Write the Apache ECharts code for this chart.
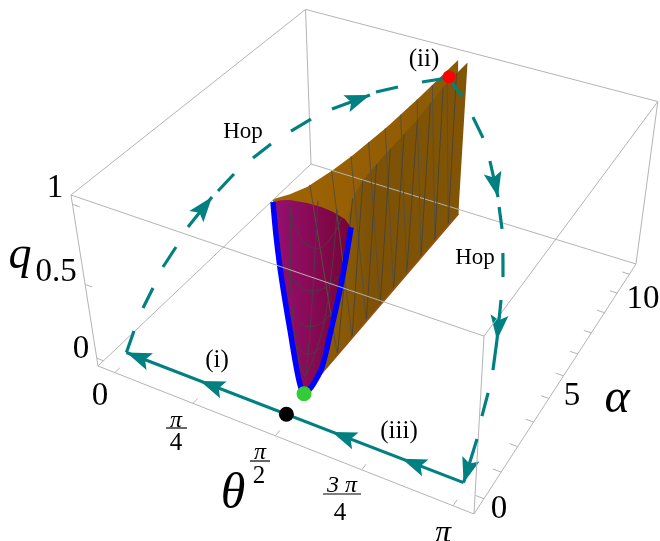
<!DOCTYPE html>
<html>
<head>
<meta charset="utf-8">
<style>
  html, body { margin: 0; padding: 0; background: #fff; }
  #chart { width: 660px; height: 541px; }
</style>
<script src="https://cdn.jsdelivr.net/npm/echarts@6/dist/echarts.min.js"></script>
</head>
<body>
<div id="chart"></div>
<script>
// data, all as [theta, alpha, q]
const thetaTicks = [0, Math.PI / 4, Math.PI / 2, 3 * Math.PI / 4, Math.PI];
const alphaTicks = [0, 1, 2, 3, 4, 5, 6, 7, 8, 9, 10];
const qTicks = [0, 0.5, 1];

// back sheet rim, left of theta = pi/2
const rimLeft = [[1.21, 1.64, 1.056], [1.29, 2.02, 1.056], [1.355, 2.49, 1.056], [1.413, 3.45, 1.056], [1.446, 4.29, 1.056],
  [1.485, 5.89, 1.056], [1.504, 7.67, 1.056], [1.509, 10, 1.056]];
// front sheet rim, right of theta = pi/2
const rimRight = [[1.897, 1.64, 1.039], [1.83, 1.87, 1.056], [1.721, 2.83, 1.056], [1.689, 3.42, 1.056],
  [1.67, 4.57, 1.056], [1.652, 6.58, 1.056], [1.602, 8.45, 1.056], [1.602, 10, 1.056]];
const valley = [[1.5708, 10, 0], [1.5708, 0.87, 0]];

// mesh lines on the sheets: alpha, rim theta left, rim theta right
const meshAlpha = [2.6, 3.4, 4.2, 5, 5.8, 6.6, 7.5, 8.4, 9.3];
const meshThetaLeft = [1.36, 1.41, 1.443, 1.465, 1.483, 1.494, 1.503, 1.506, 1.508];
const meshThetaRight = [1.74, 1.69, 1.675, 1.665, 1.659, 1.652, 1.63, 1.61, 1.6];

// blue curve
const blueCurve = [[1.2107, 1.64, 1.039], [1.249, 1.51, 0.865], [1.2966, 1.38, 0.694], [1.3546, 1.25, 0.516],
  [1.4127, 1.13, 0.352], [1.4835, 0.98, 0.157], [1.53, 0.9, 0.05], [1.5708, 0.87, 0], [1.61, 0.89, 0.03], [1.6577, 0.93, 0.088], [1.722, 1.02, 0.202],
  [1.7821, 1.19, 0.437], [1.8383, 1.37, 0.68], [1.8718, 1.51, 0.867], [1.8967, 1.64, 1.039]];
const capArc = [[1.2107, 1.64, 1.039], [1.25, 1.79, 1.039], [1.31, 1.91, 1.039], [1.446, 2, 1.039], [1.57, 2.02, 1.039], [1.68, 1.98, 1.039],
  [1.804, 1.86, 1.039], [1.8967, 1.64, 1.039]];
// mesh on the magenta cap
const capMeshAlpha = 1.55;
const capArcs = [
  [[1.388, 1.051], [1.454, 0.905], [1.607, 0.859], [1.76, 0.981], [1.83, 1.089]],
  [[1.323, 0.679], [1.411, 0.597], [1.557, 0.581], [1.716, 0.659], [1.793, 0.73]],
  [[1.345, 0.386], [1.425, 0.341], [1.517, 0.338], [1.639, 0.4], [1.726, 0.487]],
  [[1.389, 0.177], [1.489, 0.143], [1.622, 0.234]]
];
const capRibs = [
  [[1.388, 1.064], [1.358, 0.648], [1.356, 0.428], [1.394, 0.093], [1.453, -0.022]],
  [[1.631, 1.144], [1.557, 0.581], [1.489, 0.143], [1.453, -0.022]],
  [[1.795, 1.132], [1.716, 0.659], [1.605, 0.275], [1.453, -0.022]]
];

// path (ii): dashes going up to the red point
const hopUp = [
  [[0, 0, 0], [0.0439, 0.254, 0.124]],
  [[0.0938, 0.544, 0.2524], [0.1458, 0.845, 0.3577]],
  [[0.1979, 1.147, 0.4683], [0.2616, 1.516, 0.565]],
  [[0.3207, 1.858, 0.6632], [0.4342, 2.516, 0.797]],
  [[0.4619, 2.677, 0.8211], [0.5364, 3.109, 0.8918]],
  [[0.6238, 3.616, 0.9503], [0.7067, 4.096, 0.9988]],
  [[0.7988, 4.63, 1.0373], [0.8916, 5.168, 1.0706]],
  [[0.9898, 5.737, 1.0897], [1.1703, 6.783, 1.0994]],
  [[1.1993, 6.951, 1.1059], [1.3065, 7.573, 1.0922]],
  [[1.4262, 8.266, 1.074], [1.5535, 9.004, 1.047]]
];
// path (ii): dashes coming down
const hopDown = [
  [[1.57, 9.026, 1.0413], [1.78, 8.48, 1.027]],
  [[1.92, 8.28, 0.94], [2.094, 7.77, 0.896]],
  [[2.199, 7.55, 0.793], [2.339, 7.2, 0.628]],
  [[2.374, 7.05, 0.588], [2.443, 6.82, 0.486]],
  [[2.513, 6.45, 0.387], [2.583, 6.02, 0.298]],
  [[2.653, 5.44, 0.238], [2.758, 4.52, 0.122]],
  [[2.758, 4.52, 0.122], [2.845, 3.7, 0.062]],
  [[2.915, 2.93, 0.046], [2.967, 2.22, 0.017]],
  [[3.037, 1.46, 0.008], [Math.PI, 0, 0]]
];
const sweep = [[Math.PI, 0, 0], [0, 0, 0]];
const sweepArrowTheta = [2.614, 1.991, 0.742, 0];

const blackPoint = [Math.PI / 2, 0, 0];
const greenPoint = [Math.PI / 2, 0.87, 0];
const redPoint = [1.564, 9.06, 1.05];

// plot box with the 5% padding
const thetaRange = [-Math.PI / 18, Math.PI + Math.PI / 18];
const alphaRange = [-0.5556, 10.5556];
const qRange = [-0.0556, 1.0556];

// view fitted to the corners of the box
const camera = [
  [324.93, 278.51, -33.18, 98],
  [92.62, -167.46, -187.97, 366],
  [-0.10775, 0.21063, -0.087, 1]
];

function projectUnit(u, v, w) {
  const h = camera[2][0] * u + camera[2][1] * v + camera[2][2] * w + camera[2][3];
  return [
    (camera[0][0] * u + camera[0][1] * v + camera[0][2] * w + camera[0][3]) / h,
    (camera[1][0] * u + camera[1][1] * v + camera[1][2] * w + camera[1][3]) / h
  ];
}
function project(p) {
  return projectUnit(
    (p[0] - thetaRange[0]) / (thetaRange[1] - thetaRange[0]),
    (p[1] - alphaRange[0]) / (alphaRange[1] - alphaRange[0]),
    (p[2] - qRange[0]) / (qRange[1] - qRange[0])
  );
}

const series = [];

function addLine(points, color, width, smooth) {
  series.push({
    type: "line",
    data: points.map(project),
    showSymbol: false,
    silent: true,
    clip: false,
    smooth: smooth || false,
    lineStyle: { color: color, width: width, cap: "butt", join: "round" },
    z: 2
  });
}

function addPolygon(points, fill) {
  const data = points.map(project);
  series.push({
    type: "custom",
    silent: true,
    clip: false,
    data: data,
    z: 2,
    renderItem: function (params, api) {
      if (params.dataIndex !== 0) return null;
      return {
        type: "polygon",
        shape: { points: data.map((d) => api.coord(d)) },
        style: { fill: fill }
      };
    }
  });
}

function addDot(point, color, size) {
  series.push({
    type: "scatter",
    data: [project(point)],
    symbolSize: size,
    silent: true,
    itemStyle: { color: color, opacity: 1 },
    z: 2
  });
}

// arrowheads, each item is tip and tail of the dash it sits on
function addArrows(list, color) {
  series.push({
    type: "custom",
    silent: true,
    clip: false,
    data: list.map((a) => project(a[0]).concat(project(a[1]))),
    z: 2,
    renderItem: function (params, api) {
      const tip = api.coord([api.value(0), api.value(1)]);
      const tail = api.coord([api.value(2), api.value(3)]);
      const len = Math.hypot(tip[0] - tail[0], tip[1] - tail[1]);
      const dx = (tip[0] - tail[0]) / len;
      const dy = (tip[1] - tail[1]) / len;
      const at = (back, side) => [tip[0] - dx * back - dy * side, tip[1] - dy * back + dx * side];
      return {
        type: "polygon",
        shape: { points: [tip, at(25, 9), at(20, 0), at(25, -9)] },
        style: { fill: color }
      };
    }
  });
}

const thetaA = thetaRange[0], thetaB = thetaRange[1];
const alphaA = alphaRange[0], alphaB = alphaRange[1];
const qA = qRange[0], qB = qRange[1];
const boxColor = "#b4b4b4";

// back edges of the box
addLine([[thetaA, alphaB, qA], [thetaA, alphaB, qB]], boxColor, 1);
addLine([[thetaA, alphaB, qA], [thetaB, alphaB, qA]], boxColor, 1);
addLine([[thetaA, alphaB, qA], [thetaA, alphaA, qA]], boxColor, 1);
addLine([[thetaA, alphaB, qB], [thetaB, alphaB, qB]], boxColor, 1);
addLine([[thetaA, alphaB, qB], [thetaA, alphaA, qB]], boxColor, 1);
addLine([[thetaB, alphaB, qB], [thetaB, alphaB, qA]], boxColor, 1);
addLine([[thetaB, alphaB, qB], [thetaB, alphaA, qB]], boxColor, 1);
addLine([[thetaB, alphaB, qA], [thetaB, alphaA, qA]], boxColor, 1);
addLine([[thetaA, alphaA, qA], [thetaB, alphaA, qA]], boxColor, 1);
addLine([[thetaA, alphaA, qA], [thetaA, alphaA, qB]], boxColor, 1);
addLine([[thetaB, alphaA, qA], [thetaB, alphaA, qB]], boxColor, 1);

// ticks
const tickColor = "#b4b4b4";
thetaTicks.forEach((t) => {
  addLine([[t, alphaA, qA], [t, alphaA + 0.22, qA]], tickColor, 1);
});
alphaTicks.forEach((a) => {
  addLine([[thetaB, a, qA], [thetaB - 0.07, a, qA]], tickColor, 1);
});
qTicks.forEach((q) => {
  addLine([[thetaA, alphaA, q], [thetaA + 0.07, alphaA, q]], tickColor, 1);
});

// back sheet
addPolygon(rimLeft.concat(valley), {
  type: "linear", x: 273, y: 0, x2: 468, y2: 0, global: true,
  colorStops: [{ offset: 0, color: "#a06402" }, { offset: 0.5, color: "#955e04" }, { offset: 1, color: "#875906" }]
});
meshAlpha.forEach((a, i) => {
  addLine([[meshThetaLeft[i], a, 1.056], [Math.PI / 2, a, 0]], "#5a4f3a", 1);
});

// front sheet
addPolygon(rimRight.concat(valley), {
  type: "linear", x: 340, y: 0, x2: 468, y2: 0, global: true,
  colorStops: [{ offset: 0, color: "#8a5a06" }, { offset: 0.25, color: "#7d5206" }, { offset: 1, color: "#825505" }]
});
meshAlpha.forEach((a, i) => {
  addLine([[meshThetaRight[i], a, 1.056], [Math.PI / 2, a, 0]], "#4d4533", 1);
});
addLine(valley, "#94500f", 2);

addDot(greenPoint, "#32cd32", 15);

// magenta cap
addPolygon(blueCurve.concat(capArc.slice().reverse()), {
  type: "linear", x: 273, y: 0, x2: 351, y2: 0, global: true,
  colorStops: [{ offset: 0, color: "#961070" }, { offset: 0.5, color: "#870a55" }, { offset: 1, color: "#740536" }]
});
capArcs.concat(capRibs).forEach((line) => {
  addLine(line.map((p) => [p[0], capMeshAlpha, p[1]]), "#4c3a48", 1, true);
});
addLine(blueCurve, "#0000ff", 5.5, 0.35);

// front edge on top of the surface
addLine([[thetaA, alphaA, qB], [thetaB, alphaA, qB]], boxColor, 1);

addDot(blackPoint, "#000000", 15);
addDot(redPoint, "#ff0000", 13);

// path
const pathColor = "#008080";
hopUp.concat(hopDown).forEach((d) => addLine(d, pathColor, 3.2));
addLine(sweep, pathColor, 3.2);
addArrows([
  [hopUp[3][1], hopUp[3][0]],
  [hopUp[7][1], hopUp[7][0]],
  [hopDown[2][1], hopDown[2][0]],
  [hopDown[5][1], hopDown[5][0]],
  [hopDown[8][1], hopDown[8][0]]
].concat(sweepArrowTheta.map((t) => [[t, 0, 0], [t + 0.5, 0, 0]])), pathColor);

const serif = "'Liberation Serif', serif";
function label(text, x, y, size, italic) {
  return {
    type: "text",
    x: x,
    y: y,
    silent: true,
    style: {
      text: text,
      font: (italic ? "italic " : "") + size + "px " + serif,
      fill: "#000",
      textAlign: "center",
      textVerticalAlign: "middle"
    }
  };
}
function rule(x1, x2, y) {
  return { type: "line", silent: true, shape: { x1: x1, y1: y, x2: x2, y2: y }, style: { stroke: "#000", lineWidth: 1.2 } };
}

const graphics = [
  label("0", 100, 396, 33),
  label("π", 176, 421, 24, true), rule(166, 187, 428), label("4", 176, 443, 25),
  label("π", 260, 453, 24, true), rule(250, 270, 461), label("2", 259, 476, 25),
  label("3 π", 342, 486, 24, true), rule(323, 361, 494), label("4", 340, 513, 25),
  label("π", 443, 534, 32, true),
  label("θ", 233, 495, 50, true),
  label("q", 20, 256, 46, true),
  label("1", 55, 188, 33),
  label("0.5", 56, 272, 33),
  label("0", 81, 349, 33),
  label("0", 499, 509, 33),
  label("5", 572, 396, 33),
  label("10", 643, 299, 33),
  label("α", 617, 399, 48, true),
  label("Hop", 243, 132, 23),
  label("Hop", 475, 258, 23),
  label("(i)", 217, 360, 25),
  label("(ii)", 424, 59, 25),
  label("(iii)", 399, 431, 25)
];

const chart = echarts.init(document.getElementById("chart"), null, { renderer: "canvas" });
chart.setOption({
  animation: false,
  backgroundColor: "#ffffff",
  grid: { left: 0, right: 0, top: 0, bottom: 0 },
  xAxis: { type: "value", min: 0, max: 660, show: false },
  yAxis: { type: "value", min: 0, max: 541, inverse: true, show: false },
  series: series,
  graphic: graphics
});
</script>
</body>
</html>
